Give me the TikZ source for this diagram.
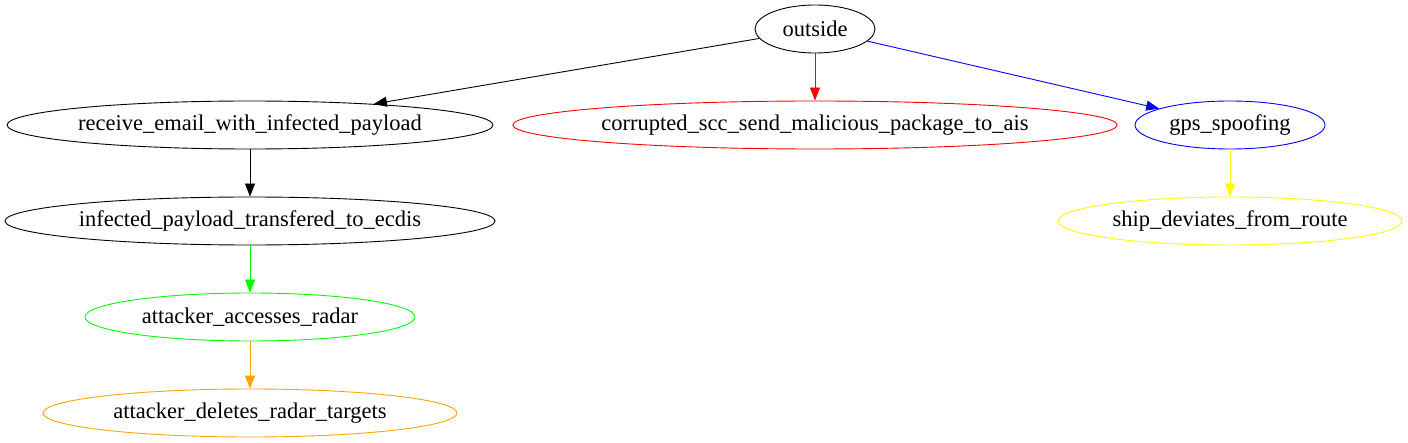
\documentclass[tikz,border=0pt]{standalone}
\usepackage{fontspec}
\setmainfont{Liberation Serif}
\usepackage{xcolor}
\usetikzlibrary{arrows.meta,shapes.geometric}
\definecolor{gvred}{HTML}{FF0000}
\definecolor{gvblue}{HTML}{0000FF}
\definecolor{gvgreen}{HTML}{00FF00}
\definecolor{gvyellow}{HTML}{FFFF00}
\definecolor{gvorange}{HTML}{FFA500}
\tikzset{
  state/.style={draw,ellipse,line width=0.9pt,minimum height=48pt,
                inner sep=0pt,font=\fontsize{22.5}{26}\selectfont},
  edgearr/.style={-{Triangle[length=13pt,width=10pt]},line width=0.9pt}
}
\begin{document}
\begin{tikzpicture}[x=1pt,y=-1pt]
  \useasboundingbox (0,0) rectangle (1408,443);
  \node[state,minimum width=120pt] (outside) at (815,29) {outside};
  \node[state,minimum width=482pt] (email) at (250,125) {receive\_email\_with\_infected\_payload};
  \node[state,draw=gvred,minimum width=597pt] (scc) at (815,125) {corrupted\_scc\_send\_malicious\_package\_to\_ais};
  \node[state,draw=gvblue,minimum width=190pt] (gps) at (1230,125) {gps\_spoofing};
  \node[state,minimum width=490pt] (ecdis) at (250,221) {infected\_payload\_transfered\_to\_ecdis};
  \node[state,draw=gvyellow,minimum width=344pt] (route) at (1230,221) {ship\_deviates\_from\_route};
  \node[state,draw=gvgreen,minimum width=330pt] (radar) at (250,317) {attacker\_accesses\_radar};
  \node[state,draw=gvorange,minimum width=414pt] (targets) at (250,413) {attacker\_deletes\_radar\_targets};
  \draw[edgearr] (outside) -- (email);
  \draw[edgearr,gvred] (outside) -- (scc);
  \draw[edgearr,gvblue] (outside) -- (gps);
  \draw[edgearr] (email) -- (ecdis);
  \draw[edgearr,gvgreen] (ecdis) -- (radar);
  \draw[edgearr,gvyellow] (gps) -- (route);
  \draw[edgearr,gvorange] (radar) -- (targets);
\end{tikzpicture}
\end{document}
